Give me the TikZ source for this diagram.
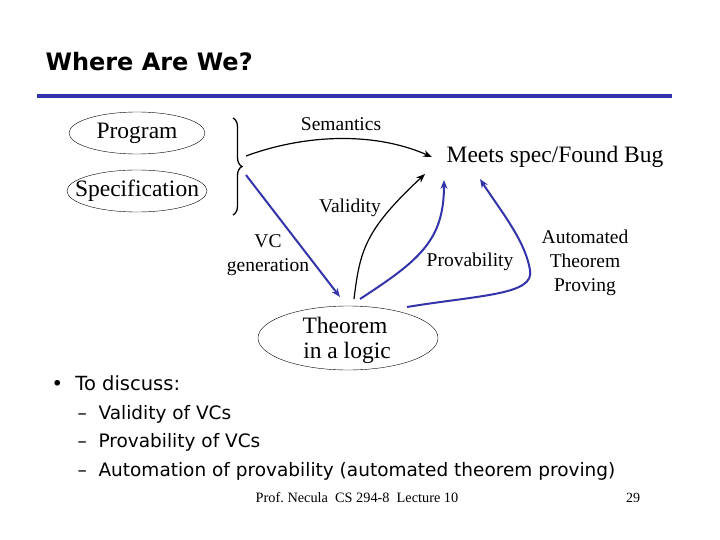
\documentclass[tikz,border=0pt]{standalone}
\usepackage{fontspec}
\setmainfont{Liberation Serif}
\newfontfamily\comic{DejaVu Sans}
\usetikzlibrary{shapes.geometric,arrows.meta,decorations.pathreplacing}
\definecolor{navy}{RGB}{51,51,170}
\begin{document}
\begin{tikzpicture}[x=1pt,y=-1pt,
  ell/.style={draw,ellipse,thin,inner sep=0pt},
  blu/.style={draw=navy,line width=2pt,-{Stealth[length=9pt,width=7pt]}},
  blk/.style={draw=black,line width=1.2pt,-{Stealth[length=9pt,width=7pt]}},
  big/.style={font=\fontsize{23.5}{26}\selectfont,align=center,inner sep=0pt},
  sm/.style={font=\fontsize{19.5}{24}\selectfont,align=center,inner sep=0pt},
  bul/.style={anchor=west,font=\comic\fontsize{18.5}{20}\selectfont}]
\useasboundingbox (0,0) rectangle (720,540);
\node[font=\comic\fontsize{24}{26}\selectfont\bfseries,anchor=west] (title) at (42,62) {Where Are We?};
\draw[navy,line width=3.5pt] (37,96) -- (672,96);
\node[ell,minimum width=136,minimum height=42] (prog) at (137,133) {};
\node[big] (progt) at (137,133) {Program};
\node[ell,minimum width=140,minimum height=42] (spec) at (137,191) {};
\node[big] (spect) at (137,191) {Specification};
\draw[line width=1.3pt,decorate,decoration={brace,amplitude=9pt}] (233,118) -- (233,215);
\coordinate (s1) at (246,156);
\coordinate (s2) at (246,175);
\node[big] (meets) at (555,157) {Meets spec/Found Bug};
\node[sm] (sem) at (341,124) {Semantics};
\node[ell,minimum width=180,minimum height=64] (thm) at (348,338) {};
\node[big] (thmt1) at (345,325) {Theorem};
\node[big] (thmt2) at (347,353) {in a logic};
\coordinate (m1) at (432,157);
\coordinate (m2) at (425,174);
\coordinate (m3) at (444,180);
\coordinate (m4) at (480,179);
\coordinate (t1) at (340,297);
\coordinate (t2) at (354,299);
\coordinate (t3) at (360,299);
\coordinate (t4) at (407,307);
\path[blk] (s1) .. controls (300,136) and (370,130) .. (m1);
\path[blu] (s2) -- (t1);
\path[blk] (t2) .. controls (360,250) and (365,230) .. (m2);
\path[blu] (t3) .. controls (420,260) and (444,240) .. (m3);
\path[blu] (t4) .. controls (480,295) and (535,295) .. (530,270) .. controls (525,240) and (500,210) .. (m4);
\node[sm] (val) at (350,208) {Validity};
\node[sm] (vc) at (268,255) {VC\\generation};
\node[sm] (prov) at (470,262) {Provability};
\node[sm] (atp) at (585,263) {Automated\\Theorem\\Proving};
\node[bul,font=\comic\fontsize{19.5}{22}\selectfont] (b0) at (48,383) {\textbullet\ \ To discuss:};
\node[bul] (b1) at (74,414) {–\ \ Validity of VCs};
\node[bul] (b2) at (74,442) {–\ \ Provability of VCs};
\node[bul] (b3) at (74,471) {–\ \ Automation of provability (automated theorem proving)};
\node[font=\fontsize{14.3}{16}\selectfont] (foot) at (357,498) {Prof.\ Necula\ \ CS 294-8\ \ Lecture 10};
\node[font=\fontsize{14}{16}\selectfont] (pg) at (633,498) {29};
\end{tikzpicture}
\end{document}
